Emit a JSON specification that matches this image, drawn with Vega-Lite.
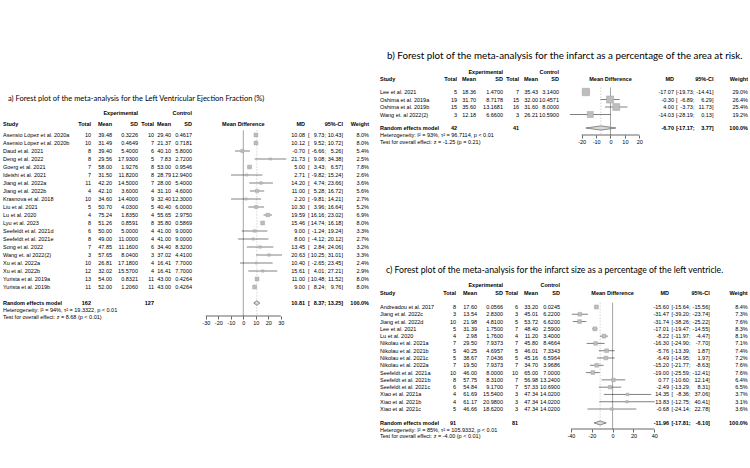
{
"$schema":"https://vega.github.io/schema/vega-lite/v6.json",
"background":"white",
"padding":{"left":3,"top":0,"right":0,"bottom":0},
"config":{"locale":{"number":{"decimal":".","thousands":",","grouping":[3],"currency":["$",""],"minus":"-"}},"view":{"stroke":null},"text":{"font":"Liberation Sans","fontSize":5.5,"color":"#000","baseline":"middle"},
"axis":{"domain":false,"grid":false,"title":null,"ticks":true,"tickSize":3,"tickColor":"#000","tickWidth":0.6,"labelFontSize":5.5,"labelFont":"Liberation Sans","labelColor":"#000","labelPadding":1.5,"labelFlush":false,"labelOverlap":false}},
"datasets":{
"a":[
{"k":1,"study":"Asensio López et al. 2020a","n_e":10,"m_e":39.48,"sd_e":0.3226,"n_c":10,"m_c":29.40,"sd_c":0.4617,"md":10.08,"lo":9.73,"hi":10.43,"w":0.080},
{"k":2,"study":"Asensio López et al. 2020b","n_e":10,"m_e":31.49,"sd_e":0.4649,"n_c":7,"m_c":21.37,"sd_c":0.7181,"md":10.12,"lo":9.52,"hi":10.72,"w":0.080},
{"k":3,"study":"Daud et al. 2021","n_e":8,"m_e":39.40,"sd_e":5.4,"n_c":6,"m_c":40.10,"sd_c":5.8,"md":-0.70,"lo":-6.66,"hi":5.26,"w":0.054},
{"k":4,"study":"Deng et al. 2022","n_e":8,"m_e":29.56,"sd_e":17.93,"n_c":5,"m_c":7.83,"sd_c":2.72,"md":21.73,"lo":9.08,"hi":34.38,"w":0.025},
{"k":5,"study":"Goerg et al. 2021","n_e":7,"m_e":58.00,"sd_e":1.9276,"n_c":8,"m_c":53.00,"sd_c":0.9546,"md":5.00,"lo":3.43,"hi":6.57,"w":0.078},
{"k":6,"study":"Ideishi et al. 2021","n_e":7,"m_e":31.50,"sd_e":11.82,"n_c":8,"m_c":28.79,"sd_c":12.94,"md":2.71,"lo":-9.82,"hi":15.24,"w":0.026},
{"k":7,"study":"Jiang et al. 2022a","n_e":11,"m_e":42.20,"sd_e":14.5,"n_c":7,"m_c":28.00,"sd_c":5.4,"md":14.20,"lo":4.74,"hi":23.66,"w":0.036},
{"k":8,"study":"Jiang et al. 2022b","n_e":4,"m_e":42.10,"sd_e":3.6,"n_c":4,"m_c":31.10,"sd_c":4.6,"md":11.00,"lo":5.28,"hi":16.72,"w":0.056},
{"k":9,"study":"Krasnova et al. 2018","n_e":10,"m_e":34.60,"sd_e":14.4,"n_c":9,"m_c":32.40,"sd_c":12.3,"md":2.20,"lo":-9.81,"hi":14.21,"w":0.027},
{"k":10,"study":"Liu et al. 2021","n_e":5,"m_e":50.70,"sd_e":4.03,"n_c":5,"m_c":40.40,"sd_c":6.0,"md":10.30,"lo":3.96,"hi":16.64,"w":0.052},
{"k":11,"study":"Lu et al. 2020","n_e":4,"m_e":75.24,"sd_e":1.835,"n_c":4,"m_c":55.65,"sd_c":2.975,"md":19.59,"lo":16.16,"hi":23.02,"w":0.069},
{"k":12,"study":"Lyu et al. 2023","n_e":8,"m_e":51.26,"sd_e":0.8591,"n_c":8,"m_c":35.80,"sd_c":0.5869,"md":15.46,"lo":14.74,"hi":16.18,"w":0.080},
{"k":13,"study":"Seefeldt et al. 2021d","n_e":6,"m_e":50.00,"sd_e":5.0,"n_c":4,"m_c":41.00,"sd_c":9.0,"md":9.00,"lo":-1.24,"hi":19.24,"w":0.033},
{"k":14,"study":"Seefeldt et al. 2021e","n_e":8,"m_e":49.00,"sd_e":11.0,"n_c":4,"m_c":41.00,"sd_c":9.0,"md":8.00,"lo":-4.12,"hi":20.12,"w":0.027},
{"k":15,"study":"Song et al. 2022","n_e":7,"m_e":47.85,"sd_e":11.16,"n_c":6,"m_c":34.40,"sd_c":8.32,"md":13.45,"lo":2.84,"hi":24.06,"w":0.032},
{"k":16,"study":"Wang et. al 2022(2)","n_e":3,"m_e":57.65,"sd_e":8.04,"n_c":3,"m_c":37.02,"sd_c":4.41,"md":20.63,"lo":10.25,"hi":31.01,"w":0.033},
{"k":17,"study":"Xu et al. 2022a","n_e":10,"m_e":26.81,"sd_e":17.18,"n_c":4,"m_c":16.41,"sd_c":7.7,"md":10.40,"lo":-2.65,"hi":23.45,"w":0.024},
{"k":18,"study":"Xu et al. 2022b","n_e":12,"m_e":32.02,"sd_e":15.57,"n_c":4,"m_c":16.41,"sd_c":7.7,"md":15.61,"lo":4.01,"hi":27.21,"w":0.029},
{"k":19,"study":"Yurista et al. 2019a","n_e":13,"m_e":54.00,"sd_e":0.8321,"n_c":11,"m_c":43.00,"sd_c":0.4264,"md":11.00,"lo":10.48,"hi":11.52,"w":0.080},
{"k":20,"study":"Yurista et al. 2019b","n_e":11,"m_e":52.00,"sd_e":1.2060,"n_c":11,"m_c":43.00,"sd_c":0.4264,"md":9.00,"lo":8.24,"hi":9.76,"w":0.080}
],
"a_re":[{"study":"Random effects model","n_e":162,"n_c":127,"md":10.81,"lo":8.37,"hi":13.25,"w":1.0,"het":"Heterogeneity: I² = 94%, τ² = 19.3322, p < 0.01","test":"Test for overall effect: z = 8.68 (p < 0.01)"}],
"b":[
{"k":1,"study":"Lee et al. 2021","n_e":5,"m_e":18.36,"sd_e":1.47,"n_c":7,"m_c":35.43,"sd_c":3.14,"md":-17.07,"lo":-19.73,"hi":-14.41,"w":0.290},
{"k":2,"study":"Oshima et al. 2019a","n_e":19,"m_e":31.70,"sd_e":8.7178,"n_c":15,"m_c":32.00,"sd_c":10.4571,"md":-0.30,"lo":-6.89,"hi":6.29,"w":0.264},
{"k":3,"study":"Oshima et al. 2019b","n_e":15,"m_e":35.60,"sd_e":13.1681,"n_c":16,"m_c":31.60,"sd_c":8.0,"md":4.00,"lo":-3.73,"hi":11.73,"w":0.254},
{"k":4,"study":"Wang et. al 2022(2)","n_e":3,"m_e":12.18,"sd_e":6.66,"n_c":3,"m_c":26.21,"sd_c":10.59,"md":-14.03,"lo":-28.19,"hi":0.13,"w":0.192}
],
"b_re":[{"study":"Random effects model","n_e":42,"n_c":41,"md":-6.70,"lo":-17.17,"hi":3.77,"w":1.0,"het":"Heterogeneity: I² = 93%, τ² = 96.7114, p < 0.01","test":"Test for overall effect: z = -1.25 (p = 0.21)"}],
"c":[
{"k":1,"study":"Andreadou et al. 2017","n_e":8,"m_e":17.60,"sd_e":0.0566,"n_c":6,"m_c":33.20,"sd_c":0.0245,"md":-15.60,"lo":-15.64,"hi":-15.56,"w":0.084},
{"k":2,"study":"Jiang et al. 2022c","n_e":3,"m_e":13.54,"sd_e":2.83,"n_c":3,"m_c":45.01,"sd_c":6.22,"md":-31.47,"lo":-39.20,"hi":-23.74,"w":0.073},
{"k":3,"study":"Jiang et al. 2022d","n_e":10,"m_e":21.98,"sd_e":4.81,"n_c":5,"m_c":53.72,"sd_c":6.62,"md":-31.74,"lo":-38.26,"hi":-25.22,"w":0.076},
{"k":4,"study":"Lee et al. 2021","n_e":5,"m_e":31.39,"sd_e":1.75,"n_c":7,"m_c":48.40,"sd_c":2.59,"md":-17.01,"lo":-19.47,"hi":-14.55,"w":0.083},
{"k":5,"study":"Lu et al. 2020","n_e":4,"m_e":2.98,"sd_e":1.76,"n_c":4,"m_c":11.20,"sd_c":3.4,"md":-8.22,"lo":-11.97,"hi":-4.47,"w":0.081},
{"k":6,"study":"Nikolau et al. 2021a","n_e":7,"m_e":29.50,"sd_e":7.9373,"n_c":7,"m_c":45.80,"sd_c":8.4664,"md":-16.30,"lo":-24.90,"hi":-7.70,"w":0.071},
{"k":7,"study":"Nikolau et al. 2021b","n_e":5,"m_e":40.25,"sd_e":4.6957,"n_c":5,"m_c":46.01,"sd_c":7.3343,"md":-5.76,"lo":-13.39,"hi":1.87,"w":0.074},
{"k":8,"study":"Nikolau et al. 2021c","n_e":5,"m_e":38.67,"sd_e":7.0436,"n_c":5,"m_c":45.16,"sd_c":6.5964,"md":-6.49,"lo":-14.95,"hi":1.97,"w":0.072},
{"k":9,"study":"Nikolau et al. 2022a","n_e":7,"m_e":19.50,"sd_e":7.9373,"n_c":7,"m_c":34.70,"sd_c":3.9686,"md":-15.20,"lo":-21.77,"hi":-8.63,"w":0.076},
{"k":10,"study":"Seefeldt et al. 2021a","n_e":10,"m_e":46.00,"sd_e":8.0,"n_c":10,"m_c":65.00,"sd_c":7.0,"md":-19.00,"lo":-25.59,"hi":-12.41,"w":0.076},
{"k":11,"study":"Seefeldt et al. 2021b","n_e":8,"m_e":57.75,"sd_e":8.31,"n_c":7,"m_c":56.98,"sd_c":13.24,"md":0.77,"lo":-10.60,"hi":12.14,"w":0.064},
{"k":12,"study":"Seefeldt et al. 2021c","n_e":6,"m_e":54.84,"sd_e":9.17,"n_c":7,"m_c":57.33,"sd_c":10.69,"md":-2.49,"lo":-13.29,"hi":8.31,"w":0.065},
{"k":13,"study":"Xiao et al. 2021a","n_e":4,"m_e":61.69,"sd_e":15.54,"n_c":3,"m_c":47.34,"sd_c":14.02,"md":14.35,"lo":-8.36,"hi":37.06,"w":0.037},
{"k":14,"study":"Xiao et al. 2021b","n_e":4,"m_e":61.17,"sd_e":20.98,"n_c":3,"m_c":47.34,"sd_c":14.02,"md":13.83,"lo":-12.75,"hi":40.41,"w":0.031},
{"k":15,"study":"Xiao et al. 2021c","n_e":5,"m_e":46.66,"sd_e":18.62,"n_c":3,"m_c":47.34,"sd_c":14.02,"md":-0.68,"lo":-24.14,"hi":22.78,"w":0.036}
],
"c_re":[{"study":"Random effects model","n_e":91,"n_c":81,"md":-11.96,"lo":-17.81,"hi":-6.10,"w":1.0,"het":"Heterogeneity: I² = 85%, τ² = 105.9332, p < 0.01","test":"Test for overall effect: z = -4.00 (p < 0.01)"}]
},
"spacing":11,
"hconcat":[
{"spacing":0,"bounds":"flush","hconcat":[
{"width":72,"height":316,"layer":[
{"data":{"name":"a"},"mark":{"type":"text","align":"left"},"encoding":{"x":{"value":0},"y":{"field":"k","type":"quantitative","axis":null,"scale":{"domain":[-15.875,23.625],"reverse":true,"nice":false,"zero":false}},"text":{"field":"study"}}},
{"data":{"values":[{}]},"mark":{"type":"text","align":"left","fontWeight":"bold"},"encoding":{"x":{"value":0},"y":{"datum":-0.375,"type":"quantitative","axis":null,"scale":{"domain":[-15.875,23.625],"reverse":true,"nice":false,"zero":false}},"text":{"value":"Study"}}},
{"data":{"name":"a_re"},"mark":{"type":"text","align":"left","fontWeight":"bold"},"encoding":{"x":{"value":0},"y":{"datum":22,"type":"quantitative","axis":null,"scale":{"domain":[-15.875,23.625],"reverse":true,"nice":false,"zero":false}},"text":{"field":"study"}}},
{"data":{"name":"a_re"},"mark":{"type":"text","align":"left"},"encoding":{"x":{"value":0},"y":{"datum":22.875,"type":"quantitative","axis":null,"scale":{"domain":[-15.875,23.625],"reverse":true,"nice":false,"zero":false}},"text":{"field":"het"}}},
{"data":{"name":"a_re"},"mark":{"type":"text","align":"left"},"encoding":{"x":{"value":0},"y":{"datum":23.69,"type":"quantitative","axis":null,"scale":{"domain":[-15.875,23.625],"reverse":true,"nice":false,"zero":false}},"text":{"field":"test"}}},
{"data":{"values":[{}]},"mark":{"type":"text","align":"left","font":"Lato","fontSize":7.5,"dx":5},"encoding":{"x":{"value":0},"y":{"datum":-3.5,"type":"quantitative","axis":null,"scale":{"domain":[-15.875,23.625],"reverse":true,"nice":false,"zero":false}},"text":{"value":"a) Forest plot of the meta-analysis for the Left Ventricular Ejection Fraction (%)"}}}
]},
{"width":16,"height":316,"layer":[
{"data":{"name":"a"},"mark":{"type":"text","align":"right"},"encoding":{"x":{"value":"width"},"y":{"field":"k","type":"quantitative","axis":null,"scale":{"domain":[-15.875,23.625],"reverse":true,"nice":false,"zero":false}},"text":{"field":"n_e","type":"quantitative","format":"d"}}},
{"data":{"values":[{}]},"mark":{"type":"text","align":"right","fontWeight":"bold"},"encoding":{"x":{"value":"width"},"y":{"datum":-0.375,"type":"quantitative","axis":null,"scale":{"domain":[-15.875,23.625],"reverse":true,"nice":false,"zero":false}},"text":{"value":"Total"}}},
{"data":{"name":"a_re"},"mark":{"type":"text","align":"right","fontWeight":"bold"},"encoding":{"x":{"value":"width"},"y":{"datum":22,"type":"quantitative","axis":null,"scale":{"domain":[-15.875,23.625],"reverse":true,"nice":false,"zero":false}},"text":{"field":"n_e","type":"quantitative","format":"d"}}}
]},
{"width":21,"height":316,"layer":[
{"data":{"name":"a"},"mark":{"type":"text","align":"right"},"encoding":{"x":{"value":"width"},"y":{"field":"k","type":"quantitative","axis":null,"scale":{"domain":[-15.875,23.625],"reverse":true,"nice":false,"zero":false}},"text":{"field":"m_e","type":"quantitative","format":".2f"}}},
{"data":{"values":[{}]},"mark":{"type":"text","align":"right","fontWeight":"bold"},"encoding":{"x":{"value":"width"},"y":{"datum":-0.375,"type":"quantitative","axis":null,"scale":{"domain":[-15.875,23.625],"reverse":true,"nice":false,"zero":false}},"text":{"value":"Mean"}}}
]},
{"width":26,"height":316,"layer":[
{"data":{"name":"a"},"mark":{"type":"text","align":"right"},"encoding":{"x":{"value":"width"},"y":{"field":"k","type":"quantitative","axis":null,"scale":{"domain":[-15.875,23.625],"reverse":true,"nice":false,"zero":false}},"text":{"field":"sd_e","type":"quantitative","format":".4f"}}},
{"data":{"values":[{}]},"mark":{"type":"text","align":"right","fontWeight":"bold"},"encoding":{"x":{"value":"width"},"y":{"datum":-0.375,"type":"quantitative","axis":null,"scale":{"domain":[-15.875,23.625],"reverse":true,"nice":false,"zero":false}},"text":{"value":"SD"}}},
{"data":{"values":[{}]},"mark":{"type":"text","align":"right","fontWeight":"bold"},"encoding":{"x":{"value":"width"},"y":{"datum":-1.75,"type":"quantitative","axis":null,"scale":{"domain":[-15.875,23.625],"reverse":true,"nice":false,"zero":false}},"text":{"value":"Experimental"}}}
]},
{"width":16,"height":316,"layer":[
{"data":{"name":"a"},"mark":{"type":"text","align":"right"},"encoding":{"x":{"value":"width"},"y":{"field":"k","type":"quantitative","axis":null,"scale":{"domain":[-15.875,23.625],"reverse":true,"nice":false,"zero":false}},"text":{"field":"n_c","type":"quantitative","format":"d"}}},
{"data":{"values":[{}]},"mark":{"type":"text","align":"right","fontWeight":"bold"},"encoding":{"x":{"value":"width"},"y":{"datum":-0.375,"type":"quantitative","axis":null,"scale":{"domain":[-15.875,23.625],"reverse":true,"nice":false,"zero":false}},"text":{"value":"Total"}}},
{"data":{"name":"a_re"},"mark":{"type":"text","align":"right","fontWeight":"bold"},"encoding":{"x":{"value":"width"},"y":{"datum":22,"type":"quantitative","axis":null,"scale":{"domain":[-15.875,23.625],"reverse":true,"nice":false,"zero":false}},"text":{"field":"n_c","type":"quantitative","format":"d"}}}
]},
{"width":17,"height":316,"layer":[
{"data":{"name":"a"},"mark":{"type":"text","align":"right"},"encoding":{"x":{"value":"width"},"y":{"field":"k","type":"quantitative","axis":null,"scale":{"domain":[-15.875,23.625],"reverse":true,"nice":false,"zero":false}},"text":{"field":"m_c","type":"quantitative","format":".2f"}}},
{"data":{"values":[{}]},"mark":{"type":"text","align":"right","fontWeight":"bold"},"encoding":{"x":{"value":"width"},"y":{"datum":-0.375,"type":"quantitative","axis":null,"scale":{"domain":[-15.875,23.625],"reverse":true,"nice":false,"zero":false}},"text":{"value":"Mean"}}}
]},
{"width":21,"height":316,"layer":[
{"data":{"name":"a"},"mark":{"type":"text","align":"right"},"encoding":{"x":{"value":"width"},"y":{"field":"k","type":"quantitative","axis":null,"scale":{"domain":[-15.875,23.625],"reverse":true,"nice":false,"zero":false}},"text":{"field":"sd_c","type":"quantitative","format":".4f"}}},
{"data":{"values":[{}]},"mark":{"type":"text","align":"right","fontWeight":"bold"},"encoding":{"x":{"value":"width"},"y":{"datum":-0.375,"type":"quantitative","axis":null,"scale":{"domain":[-15.875,23.625],"reverse":true,"nice":false,"zero":false}},"text":{"value":"SD"}}},
{"data":{"values":[{}]},"mark":{"type":"text","align":"right","fontWeight":"bold"},"encoding":{"x":{"value":"width"},"y":{"datum":-1.75,"type":"quantitative","axis":null,"scale":{"domain":[-15.875,23.625],"reverse":true,"nice":false,"zero":false}},"text":{"value":"Control"}}}
]},
{"width":98,"height":316,"layer":[
{"data":{"values":[{}]},"mark":{"type":"rule","color":"#666","strokeWidth":0.6},"encoding":{"x":{"datum":0,"type":"quantitative","scale":{"domain":[-41.04,37.36],"nice":false,"zero":false},"axis":{"values":[-30,-20,-10,0,10,20,30]}},"y":{"datum":0.4,"type":"quantitative","axis":null,"scale":{"domain":[-15.875,23.625],"reverse":true,"nice":false,"zero":false}},"y2":{"datum":23.625}}},
{"data":{"name":"a_re"},"mark":{"type":"rule","color":"#aaa","strokeWidth":0.5,"strokeDash":[1.5,1.5]},"encoding":{"x":{"field":"md","type":"quantitative","scale":{"domain":[-41.04,37.36],"nice":false,"zero":false},"axis":{"values":[-30,-20,-10,0,10,20,30]}},"y":{"datum":0.4,"type":"quantitative","axis":null,"scale":{"domain":[-15.875,23.625],"reverse":true,"nice":false,"zero":false}},"y2":{"datum":23.625}}},
{"data":{"name":"a"},"mark":{"type":"rule","color":"#000","strokeWidth":0.5},"encoding":{"x":{"field":"lo","type":"quantitative","scale":{"domain":[-41.04,37.36],"nice":false,"zero":false},"axis":{"values":[-30,-20,-10,0,10,20,30]}},"x2":{"field":"hi"},"y":{"field":"k","type":"quantitative","axis":null,"scale":{"domain":[-15.875,23.625],"reverse":true,"nice":false,"zero":false}}}},
{"data":{"name":"a"},"mark":{"type":"point","shape":"square","filled":true,"fill":"#bdbdbd","stroke":"#999","strokeWidth":0.4,"opacity":1},"encoding":{"x":{"field":"md","type":"quantitative","scale":{"domain":[-41.04,37.36],"nice":false,"zero":false},"axis":{"values":[-30,-20,-10,0,10,20,30]}},"y":{"field":"k","type":"quantitative","axis":null,"scale":{"domain":[-15.875,23.625],"reverse":true,"nice":false,"zero":false}},"size":{"field":"w","type":"quantitative","scale":{"domain":[0,0.08],"range":[0,56]},"legend":null}}},
{"data":{"name":"a_re"},"mark":{"type":"point","shape":"M-1,0L0,-0.75L1,0L0,0.75Z","size":37,"filled":true,"fill":"#d9d9d9","stroke":"#444","strokeWidth":0.6,"opacity":1},"encoding":{"x":{"field":"md","type":"quantitative","scale":{"domain":[-41.04,37.36],"nice":false,"zero":false},"axis":{"values":[-30,-20,-10,0,10,20,30]}},"y":{"datum":22,"type":"quantitative","axis":null,"scale":{"domain":[-15.875,23.625],"reverse":true,"nice":false,"zero":false}}}},
{"data":{"values":[{}]},"mark":{"type":"rule","color":"#000","strokeWidth":0.6},"encoding":{"x":{"datum":-30,"type":"quantitative","scale":{"domain":[-41.04,37.36],"nice":false,"zero":false},"axis":{"values":[-30,-20,-10,0,10,20,30]}},"x2":{"datum":30},"y":{"datum":23.625,"type":"quantitative","axis":null,"scale":{"domain":[-15.875,23.625],"reverse":true,"nice":false,"zero":false}}}},
{"data":{"values":[{}]},"mark":{"type":"text","align":"center","fontWeight":"bold"},"encoding":{"x":{"datum":0,"type":"quantitative","scale":{"domain":[-41.04,37.36],"nice":false,"zero":false},"axis":{"values":[-30,-20,-10,0,10,20,30]}},"y":{"datum":-0.375,"type":"quantitative","axis":null,"scale":{"domain":[-15.875,23.625],"reverse":true,"nice":false,"zero":false}},"text":{"value":"Mean Difference"}}}
]},
{"width":15,"height":316,"layer":[
{"data":{"name":"a"},"mark":{"type":"text","align":"right"},"encoding":{"x":{"value":"width"},"y":{"field":"k","type":"quantitative","axis":null,"scale":{"domain":[-15.875,23.625],"reverse":true,"nice":false,"zero":false}},"text":{"field":"md","type":"quantitative","format":".2f"}}},
{"data":{"values":[{}]},"mark":{"type":"text","align":"right","fontWeight":"bold"},"encoding":{"x":{"value":"width"},"y":{"datum":-0.375,"type":"quantitative","axis":null,"scale":{"domain":[-15.875,23.625],"reverse":true,"nice":false,"zero":false}},"text":{"value":"MD"}}},
{"data":{"name":"a_re"},"mark":{"type":"text","align":"right","fontWeight":"bold"},"encoding":{"x":{"value":"width"},"y":{"datum":22,"type":"quantitative","axis":null,"scale":{"domain":[-15.875,23.625],"reverse":true,"nice":false,"zero":false}},"text":{"field":"md","type":"quantitative","format":".2f"}}}
]},
{"width":21,"height":316,"layer":[
{"data":{"name":"a"},"mark":{"type":"text","align":"left","dx":3},"encoding":{"x":{"value":0},"y":{"field":"k","type":"quantitative","axis":null,"scale":{"domain":[-15.875,23.625],"reverse":true,"nice":false,"zero":false}},"text":{"value":"["}}},
{"data":{"name":"a"},"mark":{"type":"text","align":"right","dx":-1.6},"encoding":{"x":{"value":"width"},"y":{"field":"k","type":"quantitative","axis":null,"scale":{"domain":[-15.875,23.625],"reverse":true,"nice":false,"zero":false}},"text":{"field":"lo","type":"quantitative","format":".2f"}}},
{"data":{"name":"a"},"mark":{"type":"text","align":"right"},"encoding":{"x":{"value":"width"},"y":{"field":"k","type":"quantitative","axis":null,"scale":{"domain":[-15.875,23.625],"reverse":true,"nice":false,"zero":false}},"text":{"value":";"}}},
{"data":{"name":"a_re"},"mark":{"type":"text","align":"left","dx":3,"fontWeight":"bold"},"encoding":{"x":{"value":0},"y":{"datum":22,"type":"quantitative","axis":null,"scale":{"domain":[-15.875,23.625],"reverse":true,"nice":false,"zero":false}},"text":{"value":"["}}},
{"data":{"name":"a_re"},"mark":{"type":"text","align":"right","dx":-1.6,"fontWeight":"bold"},"encoding":{"x":{"value":"width"},"y":{"datum":22,"type":"quantitative","axis":null,"scale":{"domain":[-15.875,23.625],"reverse":true,"nice":false,"zero":false}},"text":{"field":"lo","type":"quantitative","format":".2f"}}},
{"data":{"name":"a_re"},"mark":{"type":"text","align":"right","fontWeight":"bold"},"encoding":{"x":{"value":"width"},"y":{"datum":22,"type":"quantitative","axis":null,"scale":{"domain":[-15.875,23.625],"reverse":true,"nice":false,"zero":false}},"text":{"value":";"}}}
]},
{"width":17,"height":316,"layer":[
{"data":{"name":"a"},"mark":{"type":"text","align":"right","dx":-1.6},"encoding":{"x":{"value":"width"},"y":{"field":"k","type":"quantitative","axis":null,"scale":{"domain":[-15.875,23.625],"reverse":true,"nice":false,"zero":false}},"text":{"field":"hi","type":"quantitative","format":".2f"}}},
{"data":{"name":"a"},"mark":{"type":"text","align":"right"},"encoding":{"x":{"value":"width"},"y":{"field":"k","type":"quantitative","axis":null,"scale":{"domain":[-15.875,23.625],"reverse":true,"nice":false,"zero":false}},"text":{"value":"]"}}},
{"data":{"name":"a_re"},"mark":{"type":"text","align":"right","dx":-1.6,"fontWeight":"bold"},"encoding":{"x":{"value":"width"},"y":{"datum":22,"type":"quantitative","axis":null,"scale":{"domain":[-15.875,23.625],"reverse":true,"nice":false,"zero":false}},"text":{"field":"hi","type":"quantitative","format":".2f"}}},
{"data":{"name":"a_re"},"mark":{"type":"text","align":"right","fontWeight":"bold"},"encoding":{"x":{"value":"width"},"y":{"datum":22,"type":"quantitative","axis":null,"scale":{"domain":[-15.875,23.625],"reverse":true,"nice":false,"zero":false}},"text":{"value":"]"}}},
{"data":{"values":[{}]},"mark":{"type":"text","align":"right","fontWeight":"bold"},"encoding":{"x":{"value":"width"},"y":{"datum":-0.375,"type":"quantitative","axis":null,"scale":{"domain":[-15.875,23.625],"reverse":true,"nice":false,"zero":false}},"text":{"value":"95%-CI"}}}
]},
{"width":26,"height":316,"layer":[
{"data":{"name":"a"},"mark":{"type":"text","align":"right"},"encoding":{"x":{"value":"width"},"y":{"field":"k","type":"quantitative","axis":null,"scale":{"domain":[-15.875,23.625],"reverse":true,"nice":false,"zero":false}},"text":{"field":"w","type":"quantitative","format":".1%"}}},
{"data":{"values":[{}]},"mark":{"type":"text","align":"right","fontWeight":"bold"},"encoding":{"x":{"value":"width"},"y":{"datum":-0.375,"type":"quantitative","axis":null,"scale":{"domain":[-15.875,23.625],"reverse":true,"nice":false,"zero":false}},"text":{"value":"Weight"}}},
{"data":{"name":"a_re"},"mark":{"type":"text","align":"right","fontWeight":"bold"},"encoding":{"x":{"value":"width"},"y":{"datum":22,"type":"quantitative","axis":null,"scale":{"domain":[-15.875,23.625],"reverse":true,"nice":false,"zero":false}},"text":{"field":"w","type":"quantitative","format":".1%"}}}
]}
]},
{"vconcat":[
{"spacing":0,"bounds":"flush","hconcat":[
{"width":61,"height":135,"layer":[
{"data":{"name":"b"},"mark":{"type":"text","align":"left"},"encoding":{"x":{"value":0},"y":{"field":"k","type":"quantitative","axis":null,"scale":{"domain":[-11.267,6.733],"reverse":true,"nice":false,"zero":false}},"text":{"field":"study"}}},
{"data":{"values":[{}]},"mark":{"type":"text","align":"left","fontWeight":"bold"},"encoding":{"x":{"value":0},"y":{"datum":-0.67,"type":"quantitative","axis":null,"scale":{"domain":[-11.267,6.733],"reverse":true,"nice":false,"zero":false}},"text":{"value":"Study"}}},
{"data":{"name":"b_re"},"mark":{"type":"text","align":"left","fontWeight":"bold"},"encoding":{"x":{"value":0},"y":{"datum":5.8,"type":"quantitative","axis":null,"scale":{"domain":[-11.267,6.733],"reverse":true,"nice":false,"zero":false}},"text":{"field":"study"}}},
{"data":{"name":"b_re"},"mark":{"type":"text","align":"left"},"encoding":{"x":{"value":0},"y":{"datum":6.73,"type":"quantitative","axis":null,"scale":{"domain":[-11.267,6.733],"reverse":true,"nice":false,"zero":false}},"text":{"field":"het"}}},
{"data":{"name":"b_re"},"mark":{"type":"text","align":"left"},"encoding":{"x":{"value":0},"y":{"datum":7.6,"type":"quantitative","axis":null,"scale":{"domain":[-11.267,6.733],"reverse":true,"nice":false,"zero":false}},"text":{"field":"test"}}},
{"data":{"values":[{}]},"mark":{"type":"text","align":"left","font":"Lato","fontSize":9.8,"dx":7},"encoding":{"x":{"value":0},"y":{"datum":-3.8,"type":"quantitative","axis":null,"scale":{"domain":[-11.267,6.733],"reverse":true,"nice":false,"zero":false}},"text":{"value":"b) Forest plot of the meta-analysis for the infarct as a percentage of the area at risk."}}}
]},
{"width":16,"height":135,"layer":[
{"data":{"name":"b"},"mark":{"type":"text","align":"right"},"encoding":{"x":{"value":"width"},"y":{"field":"k","type":"quantitative","axis":null,"scale":{"domain":[-11.267,6.733],"reverse":true,"nice":false,"zero":false}},"text":{"field":"n_e","type":"quantitative","format":"d"}}},
{"data":{"values":[{}]},"mark":{"type":"text","align":"right","fontWeight":"bold"},"encoding":{"x":{"value":"width"},"y":{"datum":-0.67,"type":"quantitative","axis":null,"scale":{"domain":[-11.267,6.733],"reverse":true,"nice":false,"zero":false}},"text":{"value":"Total"}}},
{"data":{"name":"b_re"},"mark":{"type":"text","align":"right","fontWeight":"bold"},"encoding":{"x":{"value":"width"},"y":{"datum":5.8,"type":"quantitative","axis":null,"scale":{"domain":[-11.267,6.733],"reverse":true,"nice":false,"zero":false}},"text":{"field":"n_e","type":"quantitative","format":"d"}}}
]},
{"width":19,"height":135,"layer":[
{"data":{"name":"b"},"mark":{"type":"text","align":"right"},"encoding":{"x":{"value":"width"},"y":{"field":"k","type":"quantitative","axis":null,"scale":{"domain":[-11.267,6.733],"reverse":true,"nice":false,"zero":false}},"text":{"field":"m_e","type":"quantitative","format":".2f"}}},
{"data":{"values":[{}]},"mark":{"type":"text","align":"right","fontWeight":"bold"},"encoding":{"x":{"value":"width"},"y":{"datum":-0.67,"type":"quantitative","axis":null,"scale":{"domain":[-11.267,6.733],"reverse":true,"nice":false,"zero":false}},"text":{"value":"Mean"}}}
]},
{"width":27,"height":135,"layer":[
{"data":{"name":"b"},"mark":{"type":"text","align":"right"},"encoding":{"x":{"value":"width"},"y":{"field":"k","type":"quantitative","axis":null,"scale":{"domain":[-11.267,6.733],"reverse":true,"nice":false,"zero":false}},"text":{"field":"sd_e","type":"quantitative","format":".4f"}}},
{"data":{"values":[{}]},"mark":{"type":"text","align":"right","fontWeight":"bold"},"encoding":{"x":{"value":"width"},"y":{"datum":-0.67,"type":"quantitative","axis":null,"scale":{"domain":[-11.267,6.733],"reverse":true,"nice":false,"zero":false}},"text":{"value":"SD"}}},
{"data":{"values":[{}]},"mark":{"type":"text","align":"right","fontWeight":"bold"},"encoding":{"x":{"value":"width"},"y":{"datum":-1.73,"type":"quantitative","axis":null,"scale":{"domain":[-11.267,6.733],"reverse":true,"nice":false,"zero":false}},"text":{"value":"Experimental"}}}
]},
{"width":16,"height":135,"layer":[
{"data":{"name":"b"},"mark":{"type":"text","align":"right"},"encoding":{"x":{"value":"width"},"y":{"field":"k","type":"quantitative","axis":null,"scale":{"domain":[-11.267,6.733],"reverse":true,"nice":false,"zero":false}},"text":{"field":"n_c","type":"quantitative","format":"d"}}},
{"data":{"values":[{}]},"mark":{"type":"text","align":"right","fontWeight":"bold"},"encoding":{"x":{"value":"width"},"y":{"datum":-0.67,"type":"quantitative","axis":null,"scale":{"domain":[-11.267,6.733],"reverse":true,"nice":false,"zero":false}},"text":{"value":"Total"}}},
{"data":{"name":"b_re"},"mark":{"type":"text","align":"right","fontWeight":"bold"},"encoding":{"x":{"value":"width"},"y":{"datum":5.8,"type":"quantitative","axis":null,"scale":{"domain":[-11.267,6.733],"reverse":true,"nice":false,"zero":false}},"text":{"field":"n_c","type":"quantitative","format":"d"}}}
]},
{"width":19,"height":135,"layer":[
{"data":{"name":"b"},"mark":{"type":"text","align":"right"},"encoding":{"x":{"value":"width"},"y":{"field":"k","type":"quantitative","axis":null,"scale":{"domain":[-11.267,6.733],"reverse":true,"nice":false,"zero":false}},"text":{"field":"m_c","type":"quantitative","format":".2f"}}},
{"data":{"values":[{}]},"mark":{"type":"text","align":"right","fontWeight":"bold"},"encoding":{"x":{"value":"width"},"y":{"datum":-0.67,"type":"quantitative","axis":null,"scale":{"domain":[-11.267,6.733],"reverse":true,"nice":false,"zero":false}},"text":{"value":"Mean"}}}
]},
{"width":21,"height":135,"layer":[
{"data":{"name":"b"},"mark":{"type":"text","align":"right"},"encoding":{"x":{"value":"width"},"y":{"field":"k","type":"quantitative","axis":null,"scale":{"domain":[-11.267,6.733],"reverse":true,"nice":false,"zero":false}},"text":{"field":"sd_c","type":"quantitative","format":".4f"}}},
{"data":{"values":[{}]},"mark":{"type":"text","align":"right","fontWeight":"bold"},"encoding":{"x":{"value":"width"},"y":{"datum":-0.67,"type":"quantitative","axis":null,"scale":{"domain":[-11.267,6.733],"reverse":true,"nice":false,"zero":false}},"text":{"value":"SD"}}},
{"data":{"values":[{}]},"mark":{"type":"text","align":"right","fontWeight":"bold"},"encoding":{"x":{"value":"width"},"y":{"datum":-1.73,"type":"quantitative","axis":null,"scale":{"domain":[-11.267,6.733],"reverse":true,"nice":false,"zero":false}},"text":{"value":"Control"}}}
]},
{"width":101,"height":135,"layer":[
{"data":{"values":[{}]},"mark":{"type":"rule","color":"#666","strokeWidth":0.6},"encoding":{"x":{"datum":0,"type":"quantitative","scale":{"domain":[-35.76,34.38],"nice":false,"zero":false},"axis":{"values":[-20,-10,0,10,20]}},"y":{"datum":0.4,"type":"quantitative","axis":null,"scale":{"domain":[-11.267,6.733],"reverse":true,"nice":false,"zero":false}},"y2":{"datum":6.733}}},
{"data":{"name":"b_re"},"mark":{"type":"rule","color":"#aaa","strokeWidth":0.5,"strokeDash":[1.5,1.5]},"encoding":{"x":{"field":"md","type":"quantitative","scale":{"domain":[-35.76,34.38],"nice":false,"zero":false},"axis":{"values":[-20,-10,0,10,20]}},"y":{"datum":0.4,"type":"quantitative","axis":null,"scale":{"domain":[-11.267,6.733],"reverse":true,"nice":false,"zero":false}},"y2":{"datum":6.733}}},
{"data":{"name":"b"},"mark":{"type":"rule","color":"#000","strokeWidth":0.5},"encoding":{"x":{"field":"lo","type":"quantitative","scale":{"domain":[-35.76,34.38],"nice":false,"zero":false},"axis":{"values":[-20,-10,0,10,20]}},"x2":{"field":"hi"},"y":{"field":"k","type":"quantitative","axis":null,"scale":{"domain":[-11.267,6.733],"reverse":true,"nice":false,"zero":false}}}},
{"data":{"name":"b"},"mark":{"type":"point","shape":"square","filled":true,"fill":"#bdbdbd","stroke":"#999","strokeWidth":0.4,"opacity":1},"encoding":{"x":{"field":"md","type":"quantitative","scale":{"domain":[-35.76,34.38],"nice":false,"zero":false},"axis":{"values":[-20,-10,0,10,20]}},"y":{"field":"k","type":"quantitative","axis":null,"scale":{"domain":[-11.267,6.733],"reverse":true,"nice":false,"zero":false}},"size":{"field":"w","type":"quantitative","scale":{"domain":[0,0.29],"range":[0,45]},"legend":null}}},
{"data":{"name":"b_re"},"mark":{"type":"point","shape":"M-1,0L0,-0.14L1,0L0,0.14Z","size":909,"filled":true,"fill":"#d9d9d9","stroke":"#444","strokeWidth":0.6,"opacity":1},"encoding":{"x":{"field":"md","type":"quantitative","scale":{"domain":[-35.76,34.38],"nice":false,"zero":false},"axis":{"values":[-20,-10,0,10,20]}},"y":{"datum":5.8,"type":"quantitative","axis":null,"scale":{"domain":[-11.267,6.733],"reverse":true,"nice":false,"zero":false}}}},
{"data":{"values":[{}]},"mark":{"type":"rule","color":"#000","strokeWidth":0.6},"encoding":{"x":{"datum":-20,"type":"quantitative","scale":{"domain":[-35.76,34.38],"nice":false,"zero":false},"axis":{"values":[-20,-10,0,10,20]}},"x2":{"datum":20},"y":{"datum":6.733,"type":"quantitative","axis":null,"scale":{"domain":[-11.267,6.733],"reverse":true,"nice":false,"zero":false}}}},
{"data":{"values":[{}]},"mark":{"type":"text","align":"center","fontWeight":"bold"},"encoding":{"x":{"datum":0,"type":"quantitative","scale":{"domain":[-35.76,34.38],"nice":false,"zero":false},"axis":{"values":[-20,-10,0,10,20]}},"y":{"datum":-0.67,"type":"quantitative","axis":null,"scale":{"domain":[-11.267,6.733],"reverse":true,"nice":false,"zero":false}},"text":{"value":"Mean Difference"}}}
]},
{"width":14,"height":135,"layer":[
{"data":{"name":"b"},"mark":{"type":"text","align":"right"},"encoding":{"x":{"value":"width"},"y":{"field":"k","type":"quantitative","axis":null,"scale":{"domain":[-11.267,6.733],"reverse":true,"nice":false,"zero":false}},"text":{"field":"md","type":"quantitative","format":".2f"}}},
{"data":{"values":[{}]},"mark":{"type":"text","align":"right","fontWeight":"bold"},"encoding":{"x":{"value":"width"},"y":{"datum":-0.67,"type":"quantitative","axis":null,"scale":{"domain":[-11.267,6.733],"reverse":true,"nice":false,"zero":false}},"text":{"value":"MD"}}},
{"data":{"name":"b_re"},"mark":{"type":"text","align":"right","fontWeight":"bold"},"encoding":{"x":{"value":"width"},"y":{"datum":5.8,"type":"quantitative","axis":null,"scale":{"domain":[-11.267,6.733],"reverse":true,"nice":false,"zero":false}},"text":{"field":"md","type":"quantitative","format":".2f"}}}
]},
{"width":20.5,"height":135,"layer":[
{"data":{"name":"b"},"mark":{"type":"text","align":"left","dx":2},"encoding":{"x":{"value":0},"y":{"field":"k","type":"quantitative","axis":null,"scale":{"domain":[-11.267,6.733],"reverse":true,"nice":false,"zero":false}},"text":{"value":"["}}},
{"data":{"name":"b"},"mark":{"type":"text","align":"right","dx":-1.6},"encoding":{"x":{"value":"width"},"y":{"field":"k","type":"quantitative","axis":null,"scale":{"domain":[-11.267,6.733],"reverse":true,"nice":false,"zero":false}},"text":{"field":"lo","type":"quantitative","format":".2f"}}},
{"data":{"name":"b"},"mark":{"type":"text","align":"right"},"encoding":{"x":{"value":"width"},"y":{"field":"k","type":"quantitative","axis":null,"scale":{"domain":[-11.267,6.733],"reverse":true,"nice":false,"zero":false}},"text":{"value":";"}}},
{"data":{"name":"b_re"},"mark":{"type":"text","align":"left","dx":2,"fontWeight":"bold"},"encoding":{"x":{"value":0},"y":{"datum":5.8,"type":"quantitative","axis":null,"scale":{"domain":[-11.267,6.733],"reverse":true,"nice":false,"zero":false}},"text":{"value":"["}}},
{"data":{"name":"b_re"},"mark":{"type":"text","align":"right","dx":-1.6,"fontWeight":"bold"},"encoding":{"x":{"value":"width"},"y":{"datum":5.8,"type":"quantitative","axis":null,"scale":{"domain":[-11.267,6.733],"reverse":true,"nice":false,"zero":false}},"text":{"field":"lo","type":"quantitative","format":".2f"}}},
{"data":{"name":"b_re"},"mark":{"type":"text","align":"right","fontWeight":"bold"},"encoding":{"x":{"value":"width"},"y":{"datum":5.8,"type":"quantitative","axis":null,"scale":{"domain":[-11.267,6.733],"reverse":true,"nice":false,"zero":false}},"text":{"value":";"}}}
]},
{"width":18.5,"height":135,"layer":[
{"data":{"name":"b"},"mark":{"type":"text","align":"right","dx":-1.6},"encoding":{"x":{"value":"width"},"y":{"field":"k","type":"quantitative","axis":null,"scale":{"domain":[-11.267,6.733],"reverse":true,"nice":false,"zero":false}},"text":{"field":"hi","type":"quantitative","format":".2f"}}},
{"data":{"name":"b"},"mark":{"type":"text","align":"right"},"encoding":{"x":{"value":"width"},"y":{"field":"k","type":"quantitative","axis":null,"scale":{"domain":[-11.267,6.733],"reverse":true,"nice":false,"zero":false}},"text":{"value":"]"}}},
{"data":{"name":"b_re"},"mark":{"type":"text","align":"right","dx":-1.6,"fontWeight":"bold"},"encoding":{"x":{"value":"width"},"y":{"datum":5.8,"type":"quantitative","axis":null,"scale":{"domain":[-11.267,6.733],"reverse":true,"nice":false,"zero":false}},"text":{"field":"hi","type":"quantitative","format":".2f"}}},
{"data":{"name":"b_re"},"mark":{"type":"text","align":"right","fontWeight":"bold"},"encoding":{"x":{"value":"width"},"y":{"datum":5.8,"type":"quantitative","axis":null,"scale":{"domain":[-11.267,6.733],"reverse":true,"nice":false,"zero":false}},"text":{"value":"]"}}},
{"data":{"values":[{}]},"mark":{"type":"text","align":"right","fontWeight":"bold"},"encoding":{"x":{"value":"width"},"y":{"datum":-0.67,"type":"quantitative","axis":null,"scale":{"domain":[-11.267,6.733],"reverse":true,"nice":false,"zero":false}},"text":{"value":"95%-CI"}}}
]},
{"width":34,"height":135,"layer":[
{"data":{"name":"b"},"mark":{"type":"text","align":"right"},"encoding":{"x":{"value":"width"},"y":{"field":"k","type":"quantitative","axis":null,"scale":{"domain":[-11.267,6.733],"reverse":true,"nice":false,"zero":false}},"text":{"field":"w","type":"quantitative","format":".1%"}}},
{"data":{"values":[{}]},"mark":{"type":"text","align":"right","fontWeight":"bold"},"encoding":{"x":{"value":"width"},"y":{"datum":-0.67,"type":"quantitative","axis":null,"scale":{"domain":[-11.267,6.733],"reverse":true,"nice":false,"zero":false}},"text":{"value":"Weight"}}},
{"data":{"name":"b_re"},"mark":{"type":"text","align":"right","fontWeight":"bold"},"encoding":{"x":{"value":"width"},"y":{"datum":5.8,"type":"quantitative","axis":null,"scale":{"domain":[-11.267,6.733],"reverse":true,"nice":false,"zero":false}},"text":{"field":"w","type":"quantitative","format":".1%"}}}
]}
]},
{"spacing":0,"bounds":"flush","hconcat":[
{"width":60,"height":277,"layer":[
{"data":{"name":"c"},"mark":{"type":"text","align":"left"},"encoding":{"x":{"value":0},"y":{"field":"k","type":"quantitative","axis":null,"scale":{"domain":[-20.26,17.74],"reverse":true,"nice":false,"zero":false}},"text":{"field":"study"}}},
{"data":{"values":[{}]},"mark":{"type":"text","align":"left","fontWeight":"bold"},"encoding":{"x":{"value":0},"y":{"datum":-0.92,"type":"quantitative","axis":null,"scale":{"domain":[-20.26,17.74],"reverse":true,"nice":false,"zero":false}},"text":{"value":"Study"}}},
{"data":{"name":"c_re"},"mark":{"type":"text","align":"left","fontWeight":"bold"},"encoding":{"x":{"value":0},"y":{"datum":16.91,"type":"quantitative","axis":null,"scale":{"domain":[-20.26,17.74],"reverse":true,"nice":false,"zero":false}},"text":{"field":"study"}}},
{"data":{"name":"c_re"},"mark":{"type":"text","align":"left"},"encoding":{"x":{"value":0},"y":{"datum":17.87,"type":"quantitative","axis":null,"scale":{"domain":[-20.26,17.74],"reverse":true,"nice":false,"zero":false}},"text":{"field":"het"}}},
{"data":{"name":"c_re"},"mark":{"type":"text","align":"left"},"encoding":{"x":{"value":0},"y":{"datum":18.76,"type":"quantitative","axis":null,"scale":{"domain":[-20.26,17.74],"reverse":true,"nice":false,"zero":false}},"text":{"field":"test"}}},
{"data":{"values":[{}]},"mark":{"type":"text","align":"left","font":"Lato","fontSize":8.7,"dx":6},"encoding":{"x":{"value":0},"y":{"datum":-4.05,"type":"quantitative","axis":null,"scale":{"domain":[-20.26,17.74],"reverse":true,"nice":false,"zero":false}},"text":{"value":"c) Forest plot of the meta-analysis for the infarct size as a percentage of the left ventricle."}}}
]},
{"width":16,"height":277,"layer":[
{"data":{"name":"c"},"mark":{"type":"text","align":"right"},"encoding":{"x":{"value":"width"},"y":{"field":"k","type":"quantitative","axis":null,"scale":{"domain":[-20.26,17.74],"reverse":true,"nice":false,"zero":false}},"text":{"field":"n_e","type":"quantitative","format":"d"}}},
{"data":{"values":[{}]},"mark":{"type":"text","align":"right","fontWeight":"bold"},"encoding":{"x":{"value":"width"},"y":{"datum":-0.92,"type":"quantitative","axis":null,"scale":{"domain":[-20.26,17.74],"reverse":true,"nice":false,"zero":false}},"text":{"value":"Total"}}},
{"data":{"name":"c_re"},"mark":{"type":"text","align":"right","fontWeight":"bold"},"encoding":{"x":{"value":"width"},"y":{"datum":16.91,"type":"quantitative","axis":null,"scale":{"domain":[-20.26,17.74],"reverse":true,"nice":false,"zero":false}},"text":{"field":"n_e","type":"quantitative","format":"d"}}}
]},
{"width":21,"height":277,"layer":[
{"data":{"name":"c"},"mark":{"type":"text","align":"right"},"encoding":{"x":{"value":"width"},"y":{"field":"k","type":"quantitative","axis":null,"scale":{"domain":[-20.26,17.74],"reverse":true,"nice":false,"zero":false}},"text":{"field":"m_e","type":"quantitative","format":".2f"}}},
{"data":{"values":[{}]},"mark":{"type":"text","align":"right","fontWeight":"bold"},"encoding":{"x":{"value":"width"},"y":{"datum":-0.92,"type":"quantitative","axis":null,"scale":{"domain":[-20.26,17.74],"reverse":true,"nice":false,"zero":false}},"text":{"value":"Mean"}}}
]},
{"width":26,"height":277,"layer":[
{"data":{"name":"c"},"mark":{"type":"text","align":"right"},"encoding":{"x":{"value":"width"},"y":{"field":"k","type":"quantitative","axis":null,"scale":{"domain":[-20.26,17.74],"reverse":true,"nice":false,"zero":false}},"text":{"field":"sd_e","type":"quantitative","format":".4f"}}},
{"data":{"values":[{}]},"mark":{"type":"text","align":"right","fontWeight":"bold"},"encoding":{"x":{"value":"width"},"y":{"datum":-0.92,"type":"quantitative","axis":null,"scale":{"domain":[-20.26,17.74],"reverse":true,"nice":false,"zero":false}},"text":{"value":"SD"}}},
{"data":{"values":[{}]},"mark":{"type":"text","align":"right","fontWeight":"bold"},"encoding":{"x":{"value":"width"},"y":{"datum":-1.95,"type":"quantitative","axis":null,"scale":{"domain":[-20.26,17.74],"reverse":true,"nice":false,"zero":false}},"text":{"value":"Experimental"}}}
]},
{"width":15,"height":277,"layer":[
{"data":{"name":"c"},"mark":{"type":"text","align":"right"},"encoding":{"x":{"value":"width"},"y":{"field":"k","type":"quantitative","axis":null,"scale":{"domain":[-20.26,17.74],"reverse":true,"nice":false,"zero":false}},"text":{"field":"n_c","type":"quantitative","format":"d"}}},
{"data":{"values":[{}]},"mark":{"type":"text","align":"right","fontWeight":"bold"},"encoding":{"x":{"value":"width"},"y":{"datum":-0.92,"type":"quantitative","axis":null,"scale":{"domain":[-20.26,17.74],"reverse":true,"nice":false,"zero":false}},"text":{"value":"Total"}}},
{"data":{"name":"c_re"},"mark":{"type":"text","align":"right","fontWeight":"bold"},"encoding":{"x":{"value":"width"},"y":{"datum":16.91,"type":"quantitative","axis":null,"scale":{"domain":[-20.26,17.74],"reverse":true,"nice":false,"zero":false}},"text":{"field":"n_c","type":"quantitative","format":"d"}}}
]},
{"width":20,"height":277,"layer":[
{"data":{"name":"c"},"mark":{"type":"text","align":"right"},"encoding":{"x":{"value":"width"},"y":{"field":"k","type":"quantitative","axis":null,"scale":{"domain":[-20.26,17.74],"reverse":true,"nice":false,"zero":false}},"text":{"field":"m_c","type":"quantitative","format":".2f"}}},
{"data":{"values":[{}]},"mark":{"type":"text","align":"right","fontWeight":"bold"},"encoding":{"x":{"value":"width"},"y":{"datum":-0.92,"type":"quantitative","axis":null,"scale":{"domain":[-20.26,17.74],"reverse":true,"nice":false,"zero":false}},"text":{"value":"Mean"}}}
]},
{"width":22,"height":277,"layer":[
{"data":{"name":"c"},"mark":{"type":"text","align":"right"},"encoding":{"x":{"value":"width"},"y":{"field":"k","type":"quantitative","axis":null,"scale":{"domain":[-20.26,17.74],"reverse":true,"nice":false,"zero":false}},"text":{"field":"sd_c","type":"quantitative","format":".4f"}}},
{"data":{"values":[{}]},"mark":{"type":"text","align":"right","fontWeight":"bold"},"encoding":{"x":{"value":"width"},"y":{"datum":-0.92,"type":"quantitative","axis":null,"scale":{"domain":[-20.26,17.74],"reverse":true,"nice":false,"zero":false}},"text":{"value":"SD"}}},
{"data":{"values":[{}]},"mark":{"type":"text","align":"right","fontWeight":"bold"},"encoding":{"x":{"value":"width"},"y":{"datum":-1.95,"type":"quantitative","axis":null,"scale":{"domain":[-20.26,17.74],"reverse":true,"nice":false,"zero":false}},"text":{"value":"Control"}}}
]},
{"width":100,"height":277,"layer":[
{"data":{"values":[{}]},"mark":{"type":"rule","color":"#666","strokeWidth":0.6},"encoding":{"x":{"datum":0,"type":"quantitative","scale":{"domain":[-50.5,45.5],"nice":false,"zero":false},"axis":{"values":[-40,-20,0,20,40]}},"y":{"datum":0.4,"type":"quantitative","axis":null,"scale":{"domain":[-20.26,17.74],"reverse":true,"nice":false,"zero":false}},"y2":{"datum":17.74}}},
{"data":{"name":"c_re"},"mark":{"type":"rule","color":"#aaa","strokeWidth":0.5,"strokeDash":[1.5,1.5]},"encoding":{"x":{"field":"md","type":"quantitative","scale":{"domain":[-50.5,45.5],"nice":false,"zero":false},"axis":{"values":[-40,-20,0,20,40]}},"y":{"datum":0.4,"type":"quantitative","axis":null,"scale":{"domain":[-20.26,17.74],"reverse":true,"nice":false,"zero":false}},"y2":{"datum":17.74}}},
{"data":{"name":"c"},"mark":{"type":"rule","color":"#000","strokeWidth":0.5},"encoding":{"x":{"field":"lo","type":"quantitative","scale":{"domain":[-50.5,45.5],"nice":false,"zero":false},"axis":{"values":[-40,-20,0,20,40]}},"x2":{"field":"hi"},"y":{"field":"k","type":"quantitative","axis":null,"scale":{"domain":[-20.26,17.74],"reverse":true,"nice":false,"zero":false}}}},
{"data":{"name":"c"},"mark":{"type":"point","shape":"square","filled":true,"fill":"#bdbdbd","stroke":"#999","strokeWidth":0.4,"opacity":1},"encoding":{"x":{"field":"md","type":"quantitative","scale":{"domain":[-50.5,45.5],"nice":false,"zero":false},"axis":{"values":[-40,-20,0,20,40]}},"y":{"field":"k","type":"quantitative","axis":null,"scale":{"domain":[-20.26,17.74],"reverse":true,"nice":false,"zero":false}},"size":{"field":"w","type":"quantitative","scale":{"domain":[0,0.084],"range":[0,45]},"legend":null}}},
{"data":{"name":"c_re"},"mark":{"type":"point","shape":"M-1,0L0,-0.33L1,0L0,0.33Z","size":148,"filled":true,"fill":"#d9d9d9","stroke":"#444","strokeWidth":0.6,"opacity":1},"encoding":{"x":{"field":"md","type":"quantitative","scale":{"domain":[-50.5,45.5],"nice":false,"zero":false},"axis":{"values":[-40,-20,0,20,40]}},"y":{"datum":16.91,"type":"quantitative","axis":null,"scale":{"domain":[-20.26,17.74],"reverse":true,"nice":false,"zero":false}}}},
{"data":{"values":[{}]},"mark":{"type":"rule","color":"#000","strokeWidth":0.6},"encoding":{"x":{"datum":-40,"type":"quantitative","scale":{"domain":[-50.5,45.5],"nice":false,"zero":false},"axis":{"values":[-40,-20,0,20,40]}},"x2":{"datum":40},"y":{"datum":17.74,"type":"quantitative","axis":null,"scale":{"domain":[-20.26,17.74],"reverse":true,"nice":false,"zero":false}}}},
{"data":{"values":[{}]},"mark":{"type":"text","align":"center","fontWeight":"bold"},"encoding":{"x":{"datum":0,"type":"quantitative","scale":{"domain":[-50.5,45.5],"nice":false,"zero":false},"axis":{"values":[-40,-20,0,20,40]}},"y":{"datum":-0.92,"type":"quantitative","axis":null,"scale":{"domain":[-20.26,17.74],"reverse":true,"nice":false,"zero":false}},"text":{"value":"Mean Difference"}}}
]},
{"width":9,"height":277,"layer":[
{"data":{"name":"c"},"mark":{"type":"text","align":"right"},"encoding":{"x":{"value":"width"},"y":{"field":"k","type":"quantitative","axis":null,"scale":{"domain":[-20.26,17.74],"reverse":true,"nice":false,"zero":false}},"text":{"field":"md","type":"quantitative","format":".2f"}}},
{"data":{"values":[{}]},"mark":{"type":"text","align":"right","fontWeight":"bold"},"encoding":{"x":{"value":"width"},"y":{"datum":-0.92,"type":"quantitative","axis":null,"scale":{"domain":[-20.26,17.74],"reverse":true,"nice":false,"zero":false}},"text":{"value":"MD"}}},
{"data":{"name":"c_re"},"mark":{"type":"text","align":"right","fontWeight":"bold"},"encoding":{"x":{"value":"width"},"y":{"datum":16.91,"type":"quantitative","axis":null,"scale":{"domain":[-20.26,17.74],"reverse":true,"nice":false,"zero":false}},"text":{"field":"md","type":"quantitative","format":".2f"}}}
]},
{"width":21.5,"height":277,"layer":[
{"data":{"name":"c"},"mark":{"type":"text","align":"left","dx":2.5},"encoding":{"x":{"value":0},"y":{"field":"k","type":"quantitative","axis":null,"scale":{"domain":[-20.26,17.74],"reverse":true,"nice":false,"zero":false}},"text":{"value":"["}}},
{"data":{"name":"c"},"mark":{"type":"text","align":"right","dx":-1.6},"encoding":{"x":{"value":"width"},"y":{"field":"k","type":"quantitative","axis":null,"scale":{"domain":[-20.26,17.74],"reverse":true,"nice":false,"zero":false}},"text":{"field":"lo","type":"quantitative","format":".2f"}}},
{"data":{"name":"c"},"mark":{"type":"text","align":"right"},"encoding":{"x":{"value":"width"},"y":{"field":"k","type":"quantitative","axis":null,"scale":{"domain":[-20.26,17.74],"reverse":true,"nice":false,"zero":false}},"text":{"value":";"}}},
{"data":{"name":"c_re"},"mark":{"type":"text","align":"left","dx":2.5,"fontWeight":"bold"},"encoding":{"x":{"value":0},"y":{"datum":16.91,"type":"quantitative","axis":null,"scale":{"domain":[-20.26,17.74],"reverse":true,"nice":false,"zero":false}},"text":{"value":"["}}},
{"data":{"name":"c_re"},"mark":{"type":"text","align":"right","dx":-1.6,"fontWeight":"bold"},"encoding":{"x":{"value":"width"},"y":{"datum":16.91,"type":"quantitative","axis":null,"scale":{"domain":[-20.26,17.74],"reverse":true,"nice":false,"zero":false}},"text":{"field":"lo","type":"quantitative","format":".2f"}}},
{"data":{"name":"c_re"},"mark":{"type":"text","align":"right","fontWeight":"bold"},"encoding":{"x":{"value":"width"},"y":{"datum":16.91,"type":"quantitative","axis":null,"scale":{"domain":[-20.26,17.74],"reverse":true,"nice":false,"zero":false}},"text":{"value":";"}}}
]},
{"width":18.8,"height":277,"layer":[
{"data":{"name":"c"},"mark":{"type":"text","align":"right","dx":-1.6},"encoding":{"x":{"value":"width"},"y":{"field":"k","type":"quantitative","axis":null,"scale":{"domain":[-20.26,17.74],"reverse":true,"nice":false,"zero":false}},"text":{"field":"hi","type":"quantitative","format":".2f"}}},
{"data":{"name":"c"},"mark":{"type":"text","align":"right"},"encoding":{"x":{"value":"width"},"y":{"field":"k","type":"quantitative","axis":null,"scale":{"domain":[-20.26,17.74],"reverse":true,"nice":false,"zero":false}},"text":{"value":"]"}}},
{"data":{"name":"c_re"},"mark":{"type":"text","align":"right","dx":-1.6,"fontWeight":"bold"},"encoding":{"x":{"value":"width"},"y":{"datum":16.91,"type":"quantitative","axis":null,"scale":{"domain":[-20.26,17.74],"reverse":true,"nice":false,"zero":false}},"text":{"field":"hi","type":"quantitative","format":".2f"}}},
{"data":{"name":"c_re"},"mark":{"type":"text","align":"right","fontWeight":"bold"},"encoding":{"x":{"value":"width"},"y":{"datum":16.91,"type":"quantitative","axis":null,"scale":{"domain":[-20.26,17.74],"reverse":true,"nice":false,"zero":false}},"text":{"value":"]"}}},
{"data":{"values":[{}]},"mark":{"type":"text","align":"right","fontWeight":"bold"},"encoding":{"x":{"value":"width"},"y":{"datum":-0.92,"type":"quantitative","axis":null,"scale":{"domain":[-20.26,17.74],"reverse":true,"nice":false,"zero":false}},"text":{"value":"95%-CI"}}}
]},
{"width":37.7,"height":277,"layer":[
{"data":{"name":"c"},"mark":{"type":"text","align":"right"},"encoding":{"x":{"value":"width"},"y":{"field":"k","type":"quantitative","axis":null,"scale":{"domain":[-20.26,17.74],"reverse":true,"nice":false,"zero":false}},"text":{"field":"w","type":"quantitative","format":".1%"}}},
{"data":{"values":[{}]},"mark":{"type":"text","align":"right","fontWeight":"bold"},"encoding":{"x":{"value":"width"},"y":{"datum":-0.92,"type":"quantitative","axis":null,"scale":{"domain":[-20.26,17.74],"reverse":true,"nice":false,"zero":false}},"text":{"value":"Weight"}}},
{"data":{"name":"c_re"},"mark":{"type":"text","align":"right","fontWeight":"bold"},"encoding":{"x":{"value":"width"},"y":{"datum":16.91,"type":"quantitative","axis":null,"scale":{"domain":[-20.26,17.74],"reverse":true,"nice":false,"zero":false}},"text":{"field":"w","type":"quantitative","format":".1%"}}}
]}
]}
],"spacing":6}
]
}
